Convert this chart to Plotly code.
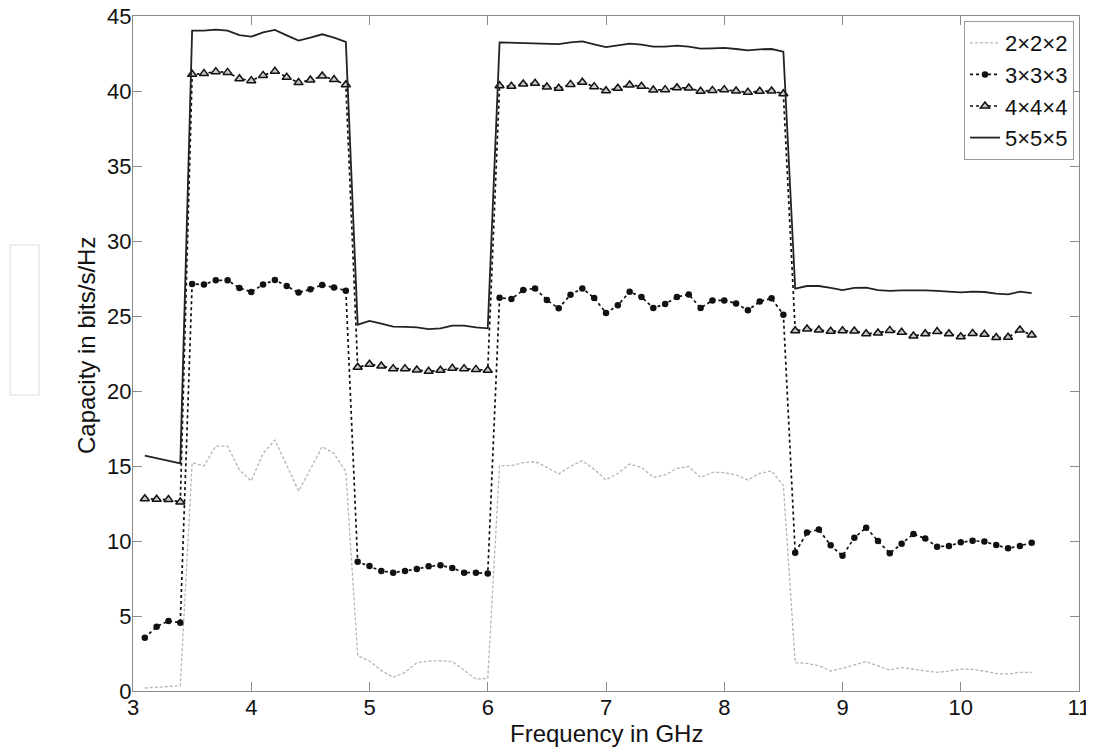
import plotly.graph_objects as go

freq = [3.1, 3.2, 3.3, 3.4, 3.5, 3.6, 3.7, 3.8, 3.9, 4.0,
        4.1, 4.2, 4.3, 4.4, 4.5, 4.6, 4.7, 4.8, 4.9, 5.0,
        5.1, 5.2, 5.3, 5.4, 5.5, 5.6, 5.7, 5.8, 5.9, 6.0,
        6.1, 6.2, 6.3, 6.4, 6.5, 6.6, 6.7, 6.8, 6.9, 7.0,
        7.1, 7.2, 7.3, 7.4, 7.5, 7.6, 7.7, 7.8, 7.9, 8.0,
        8.1, 8.2, 8.3, 8.4, 8.5, 8.6, 8.7, 8.8, 8.9, 9.0,
        9.1, 9.2, 9.3, 9.4, 9.5, 9.6, 9.7, 9.8, 9.9, 10.0,
        10.1, 10.2, 10.3, 10.4, 10.5, 10.6]

cap_2x2x2 = [0.2, 0.25, 0.33, 0.35,
             15.22, 15.0, 16.33, 16.33, 14.73, 14.0, 15.84, 16.73, 15.07, 13.33, 14.78, 16.29, 15.84, 14.62,
             2.36, 2.0, 1.36, 0.91, 1.24, 1.89, 2.0, 2.02, 1.96, 1.4, 0.8, 0.84,
             15.02, 15.02, 15.22, 15.29, 14.91, 14.47, 14.98, 15.36, 14.78, 14.07, 14.51, 15.13, 14.91,
             14.24, 14.4, 14.84, 14.96, 14.24, 14.58, 14.56, 14.4, 14.07, 14.51, 14.67, 13.69,
             1.89, 1.84, 1.69, 1.33, 1.51, 1.73, 1.96, 1.67, 1.4, 1.56, 1.44, 1.36, 1.24, 1.33,
             1.47, 1.44, 1.33, 1.16, 1.13, 1.24, 1.24]

cap_3x3x3 = [3.55, 4.29, 4.67, 4.55,
             27.13, 27.1, 27.38, 27.38, 26.87, 26.6, 27.1, 27.4, 27.0, 26.56, 26.78, 27.07, 26.9, 26.69,
             8.62, 8.33, 8.0, 7.89, 8.0, 8.13, 8.31, 8.38, 8.2, 7.89, 7.89, 7.84,
             26.22, 26.13, 26.73, 26.84, 26.07, 25.51, 26.42, 26.84, 26.2, 25.2, 25.71, 26.62, 26.27,
             25.53, 25.8, 26.27, 26.44, 25.53, 26.04, 26.04, 25.84, 25.38, 25.96, 26.18, 25.09,
             9.22, 10.56, 10.76, 9.71, 9.01, 10.22, 10.89, 10.0, 9.18, 9.82, 10.47, 10.16, 9.62, 9.67,
             9.91, 10.02, 9.96, 9.73, 9.51, 9.67, 9.89]

cap_4x4x4 = [12.82, 12.78, 12.76, 12.6,
             41.11, 41.16, 41.29, 41.24, 40.82, 40.69, 41.04, 41.31, 40.91, 40.56, 40.73, 41.0, 40.76, 40.42,
             21.58, 21.78, 21.67, 21.49, 21.49, 21.4, 21.31, 21.38, 21.51, 21.49, 21.44, 21.38,
             40.35, 40.31, 40.47, 40.51, 40.27, 40.18, 40.44, 40.58, 40.29, 40.02, 40.18, 40.4, 40.31,
             40.07, 40.09, 40.22, 40.2, 39.98, 40.04, 40.09, 40.0, 39.91, 39.98, 40.0, 39.82,
             24.02, 24.13, 24.07, 23.98, 24.02, 24.0, 23.82, 23.87, 24.04, 23.91, 23.67, 23.82, 23.96, 23.82,
             23.62, 23.84, 23.78, 23.56, 23.58, 24.07, 23.73]

cap_5x5x5 = [15.69, 15.52, 15.38, 15.18,
             44.02, 44.02, 44.09, 44.02, 43.73, 43.62, 43.91, 44.07, 43.71, 43.36, 43.56, 43.78, 43.56, 43.27,
             24.42, 24.67, 24.49, 24.29, 24.27, 24.24, 24.13, 24.18, 24.36, 24.36, 24.24, 24.18,
             43.24, 43.22, 43.22, 43.2, 43.16, 43.13, 43.24, 43.31, 43.11, 42.93, 43.04, 43.16, 43.09,
             42.96, 42.96, 43.02, 42.96, 42.82, 42.84, 42.87, 42.8, 42.71, 42.78, 42.8, 42.62,
             26.82, 27.0, 27.0, 26.87, 26.73, 26.87, 26.89, 26.73, 26.67, 26.71, 26.73, 26.71, 26.67, 26.62,
             26.58, 26.62, 26.6, 26.49, 26.44, 26.62, 26.53]

series_names = ["2\u00d72\u00d72", "3\u00d73\u00d73", "4\u00d74\u00d74", "5\u00d75\u00d75"]
x_ticks = [3, 4, 5, 6, 7, 8, 9, 10, 11]
y_ticks = [0, 5, 10, 15, 20, 25, 30, 35, 40, 45]
x_title = "Frequency in GHz"
y_title = "Capacity in bits/s/Hz"

FONT = "Liberation Sans, Arial, sans-serif"
INK = "#111111"

fig = go.Figure()
fig.add_trace(go.Scatter(x=freq, y=cap_2x2x2, name=series_names[0], mode="lines",
                         line=dict(color="#b5b5b5", width=1.3, dash="3px,2px")))
fig.add_trace(go.Scatter(x=freq, y=cap_3x3x3, name=series_names[1], mode="lines+markers",
                         line=dict(color=INK, width=1.7, dash="dot"),
                         marker=dict(symbol="circle", size=6.5, color=INK)))
fig.add_trace(go.Scatter(x=freq, y=cap_4x4x4, name=series_names[2], mode="lines+markers",
                         line=dict(color=INK, width=1.7, dash="dot"),
                         marker=dict(symbol="triangle-up", size=8, color="#c8c8c8",
                                     line=dict(color=INK, width=1.5))))
fig.add_trace(go.Scatter(x=freq, y=cap_5x5x5, name=series_names[3], mode="lines",
                         line=dict(color="#222222", width=1.8)))

axis_common = dict(showline=True, linecolor="#8a8a8a", linewidth=1, mirror="ticks",
                   ticks="inside", ticklen=9, tickcolor="#8a8a8a", tickwidth=1,
                   showgrid=False, zeroline=False, ticklabeloverflow="allow",
                   tickfont=dict(family=FONT, size=22, color=INK))

fig.update_xaxes(range=[3, 11], tickvals=x_ticks, ticklabelstandoff=-3, **axis_common)
fig.update_yaxes(range=[0, 45], tickvals=y_ticks, ticklabelstandoff=-4, **axis_common)

# page body has an 8px margin: figure spans 8..1094 x 8..750 of the window
fig.update_layout(
    width=1086, height=742,
    margin=dict(l=125, r=15, t=8, b=59, autoexpand=False),
    plot_bgcolor="white", paper_bgcolor="white",
    font=dict(family=FONT, size=22, color=INK),
    showlegend=True,
    legend=dict(x=0.9947, y=0.9926, xanchor="right", yanchor="top",
                bgcolor="white", bordercolor="#9a9a9a", borderwidth=1,
                font=dict(family=FONT, size=22, color=INK),
                itemwidth=30, tracegroupgap=0),
    annotations=[
        dict(text=x_title, xref="paper", yref="paper", x=0.5, y=-43 / 675,
             xanchor="center", yanchor="middle", showarrow=False,
             font=dict(family=FONT, size=24, color=INK)),
        dict(text=y_title, xref="paper", yref="paper", x=-47 / 946, y=(691 - 346) / 675,
             xanchor="center", yanchor="middle", showarrow=False, textangle=-90,
             font=dict(family=FONT, size=24, color=INK)),
    ],
    shapes=[dict(type="rect", xref="paper", yref="paper",
                 x0=-123 / 946, x1=-94 / 946, y0=(691 - 395) / 675, y1=(691 - 245) / 675,
                 line=dict(color="#eeeeee", width=2), fillcolor="rgba(0,0,0,0)", layer="below")],
)

fig.write_html("out.html")
